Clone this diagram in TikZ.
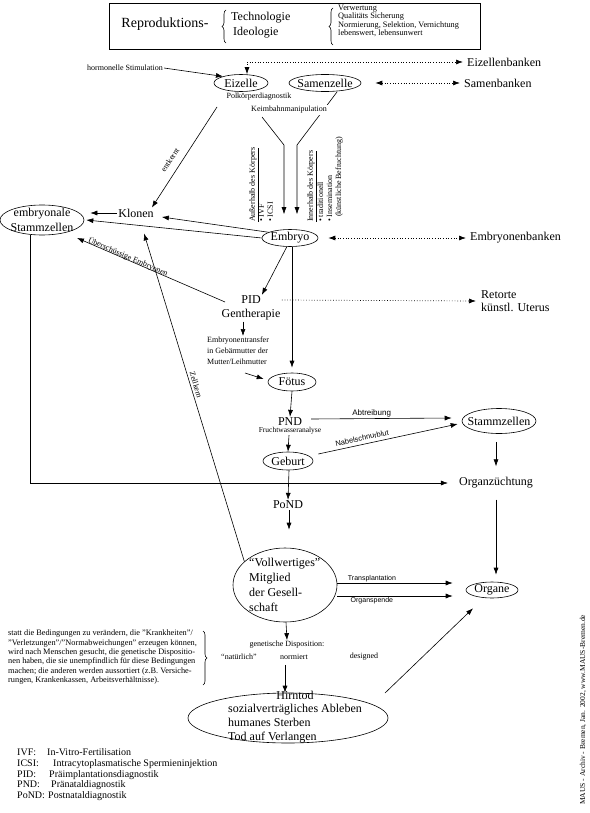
\documentclass[tikz,border=0pt]{standalone}
\usepackage{fontspec}
\setmainfont{Liberation Serif}
\newfontfamily\sansf{Liberation Sans}
\usetikzlibrary{shapes.geometric,arrows.meta,decorations.pathreplacing}
\begin{document}
\begin{tikzpicture}[x=1pt,y=-1pt,
  every node/.style={inner sep=1pt},
  ln/.style={line width=0.6pt},
  conn/.style={ln,-{Latex[length=7pt,width=5pt]}},
  dconn/.style={line width=0.7pt,dotted,-{Latex[length=7pt,width=5pt]}},
  ddconn/.style={line width=0.7pt,dotted,{Latex[length=7pt,width=5pt]}-{Latex[length=7pt,width=5pt]}},
  ell/.style={draw,ellipse,ln,inner sep=0pt},
  big/.style={font=\fontsize{12}{14}\selectfont},
  sm/.style={font=\fontsize{8}{9}\selectfont},
  lbl/.style={font=\sansf\fontsize{7}{8}\selectfont},
  brc/.style={ln,decorate,decoration={brace,amplitude=4pt}},
  leg/.style={anchor=west,font=\fontsize{10}{11}\selectfont,text height=7pt,text depth=2pt},
]
\fill[white] (0,0) rectangle (589,813);
\useasboundingbox (0,0) rectangle (589,813);

% ---------- top box
\node[draw,ln,minimum width=371pt,minimum height=46pt] (topbox) at (294.5,26) {};
\node[font=\fontsize{14}{16}\selectfont] (repro) at (165,24) {Reproduktions-};
\draw[brc] (226,43) -- (226,10);
\node[big,anchor=west] (tech) at (230,18) {Technologie};
\node[big,anchor=west] (ideo) at (232,33) {Ideologie};
\draw[brc] (333,45) -- (333,8);
\node[anchor=west,align=left,font=\fontsize{8.3}{7.5}\selectfont] (verw) at (337,21) {Verwertung\\Qualitäts Sicherung\\Normierung, Selektion, Vernichtung\\lebenswert, lebensunwert};

% ---------- ellipses
\node[ell,minimum width=54pt,minimum height=17pt] (eiz) at (241,83) {};
\node[big] at (eiz) {Eizelle};
\node[ell,minimum width=72pt,minimum height=17pt] (sam) at (325,83) {};
\node[big] at (sam) {Samenzelle};
\node[ell,minimum width=56pt,minimum height=17pt] (embryo) at (290,238) {};
\node[big] at (embryo) {Embryo};
\node[ell,minimum width=84pt,minimum height=30pt] (esz) at (42,220) {};
\node[big,align=center,font=\fontsize{12}{15}\selectfont] at (esz) {embryonale\\Stammzellen};
\node[ell,minimum width=48pt,minimum height=18pt] (fotus) at (292,382) {};
\node[big] at (fotus) {Fötus};
\node[ell,minimum width=50pt,minimum height=18pt] (geburt) at (288,461) {};
\node[big] at (geburt) {Geburt};
\node[ell,minimum width=74pt,minimum height=25pt] (stz) at (499,421) {};
\node[big] at (stz) {Stammzellen};
\node[ell,minimum width=52pt,minimum height=16pt] (organe) at (492,590) {};
\node[big] at (organe) {Organe};
\node[ell,minimum width=104pt,minimum height=74pt] (voll) at (285,585) {};
\node[big,align=left,anchor=west,font=\fontsize{12}{15}\selectfont] (volltext) at (248,585) {“Vollwertiges”\\Mitglied\\der Gesell-\\schaft};
\node[ell,minimum width=200pt,minimum height=50pt] (hirn) at (288,718) {};
\node[big] (hirnt) at (295,695) {Hirntod};
\node[big,align=left,anchor=west] (hirnl) at (227,724) {sozialverträgliches Ableben\\humanes Sterben\\Tod auf Verlangen};

% ---------- plain text nodes
\node[big,anchor=west] (eizb) at (466,62) {Eizellenbanken};
\node[big,anchor=west] (samb) at (463,83) {Samenbanken};
\node[big,anchor=west] (embb) at (469,238) {Embryonenbanken};
\node[big] (klonen) at (136,213) {Klonen};
\node[big] (pid) at (251,300) {PID};
\node[big] (gen) at (251,315) {Gentherapie};
\node[big,anchor=west,align=left,font=\fontsize{12}{12.5}\selectfont] (ret) at (480,301) {Retorte\\künstl. Uterus};
\node[sm,align=left,anchor=north west,font=\fontsize{8}{11}\selectfont] (etrans) at (206,336) {Embryonentransfer\\in Gebärmutter der\\Mutter/Leihmutter};
\node[big] (pnd) at (290,422) {PND};
\node[sm,font=\fontsize{7.5}{8}\selectfont] (frucht) at (290,430.5) {Fruchtwasseranalyse};
\node[big] (organz) at (496,483) {Organzüchtung};
\node[big] (pond) at (288,505) {PoND};
\node[sm] (horm) at (125,68) {hormonelle Stimulation};

% ---------- connectors
\draw[ddconn] ([xshift=6pt]eiz.north) |- ([xshift=-3pt]eizb.west);
\draw[ddconn] ([xshift=14pt]sam.east) -- ([xshift=-3pt]samb.west);
\draw[conn] (horm.east) -- (eiz.160);

\coordinate (e1) at (262,117);
\coordinate (s1) at (337,92);
\draw[conn] (e1) -- (284,145) -- ([xshift=-6pt,yshift=15pt]embryo.north);
\draw[conn] (s1) -- (297,145) -- ([xshift=7pt,yshift=15pt]embryo.north);
\node[sm,fill=white] (polk) at (259,97) {Polkörperdiagnostik};
\node[sm,fill=white] (keim) at (289,110) {Keimbahnmanipulation};

\node[sm,rotate=90,anchor=north west,align=left] (aus) at (248,223) {\underline{Außerhalb des Körpers}\\• IVF\\• ICSI};
\node[sm,rotate=90,anchor=north west,align=left] (inn) at (306,223) {\underline{Innerhalb des Körpers}\\• traditionell\\• Insemination\\\hphantom{• }(künstliche Befruchtung)};

\coordinate (k1) at (217,107);
\draw[conn] (k1) -- ([xshift=-3pt]klonen.north east);
\node[sm,rotate=55.6] (entk) at (170,160) {entkernt};
\draw[conn] (klonen.west) -- ([xshift=6pt,yshift=7pt]esz.east);
\draw[conn] (embryo.165) -- ([xshift=7pt,yshift=-4pt]klonen.east);
\draw[conn] (embryo.west) -- ([xshift=2pt]esz.east);
\draw[ddconn] ([xshift=10pt]embryo.east) -- ([xshift=-3pt]embb.west);
\draw[conn] (embryo.250) -- (pid.north east);
\draw[conn] ([xshift=2pt]embryo.south) -- ([yshift=5pt]fotus.north);

\coordinate (p1) at (225,302);
\coordinate (ez1) at (77,238);
\draw[conn] (p1) -- (ez1);
\node[sm,rotate=-23.4] (uebe) at (128,257) {Überschüssige Embryonen};
\draw[dconn] ([xshift=20pt]pid.east) -- ([xshift=-4pt]ret.west);
\draw[conn] ([xshift=-8pt]gen.south) -- ([xshift=-8pt]gen.south |- etrans.north);
\coordinate (t1) at (245,373);
\draw[conn] (t1) -- ([xshift=-4pt,yshift=3pt]fotus.west);
\draw[conn] (fotus.south) -- (pnd.north);
\draw[conn] ([xshift=8pt,yshift=3pt]pnd.east) -- node[lbl,above,pos=0.43,font=\sansf\fontsize{8}{9}\selectfont]{Abtreibung} ([xshift=-10pt,yshift=3pt]stz.west);
\draw[conn] ([xshift=-1pt]frucht.south) -- (geburt.north);
\draw[conn] ([xshift=5pt,yshift=7pt]geburt.east) -- ([xshift=-4pt,yshift=-3pt]stz.west);
\node[lbl,rotate=12,font=\sansf\fontsize{7.5}{8}\selectfont] (nabel) at (362,438) {Nabelschnurblut};
\draw[conn] ([xshift=-3pt,yshift=-8pt]stz.south) -- ([yshift=10pt]organz.north);
\draw[conn] ([xshift=-12pt]esz.south) |- ([xshift=-10pt]organz.west);
\draw[conn] ([xshift=1pt]geburt.south) -- (pond.north);
\draw[conn] ([xshift=1pt]pond.south) -- ([xshift=4pt,yshift=18pt]voll.north);
\draw[conn] ([yshift=-10pt]organz.south) -- ([xshift=4pt,yshift=7pt]organe.north);
\draw[conn] ([yshift=2pt]voll.east) -- node[lbl,above,pos=0.3]{Transplantation} ([xshift=-13pt,yshift=7pt]organe.west);
\draw[conn] ([yshift=-11pt]voll.east) -- node[lbl,below,pos=0.3]{Organspende} ([xshift=-13pt,yshift=-6pt]organe.west);
\draw[conn] (voll.150) -- ([xshift=8pt,yshift=-15pt]klonen.south);
\node[sm,rotate=-74] (zell) at (196,385) {Zellkern};

\node[sm] (gendisp) at (287,645) {genetische Disposition:};
\node[sm] (nat) at (239,657) {“natürlich”};
\node[sm] (norm) at (294,657) {normiert};
\node[sm] (des) at (364,657) {designed};
\draw[conn] ([xshift=1pt]voll.south) -- (gendisp.north);
\draw[conn] ([xshift=-2pt,yshift=-15pt]gendisp.south) -- ([xshift=-3pt]hirn.north);
\coordinate (h1) at (385,693);
\draw[conn] (h1) -- ([xshift=-19pt,yshift=-10pt]organe.south);

% ---------- left text block
\node[align=left,anchor=north west,font=\fontsize{8.3}{9.3}\selectfont] (stattxt) at (7,629) {statt die Bedingungen zu verändern, die "Krankheiten"/\\"Verletzungen"/"Normabweichungen" erzeugen können,\\wird nach Menschen gesucht, die genetische Dispositio-\\nen haben, die sie unempfindlich für diese Bedingungen\\machen; die anderen werden aussortiert (z.B. Versiche-\\rungen, Krankenkassen, Arbeitsverhältnisse).};
\draw[brc] (203,631) -- (203,685);

% ---------- legend
\node[leg] (l1) at (16,753) {IVF:};
\node[leg] (d1) at (46,753) {In-Vitro-Fertilisation};
\node[leg] (l2) at (16,764) {ICSI:};
\node[leg] (d2) at (52,764) {Intracytoplasmatische Spermieninjektion};
\node[leg] (l3) at (16,774.5) {PID:};
\node[leg] (d3) at (48,774.5) {Präimplantationsdiagnostik};
\node[leg] (l4) at (16,785) {PND:};
\node[leg] (d4) at (50,785) {Pränataldiagnostik};
\node[leg] (l5) at (16,795.5) {PoND:};
\node[leg] (d5) at (47,795.5) {Postnataldiagnostik};

\node[rotate=90,anchor=west,font=\fontsize{7.5}{8}\selectfont] (copy) at (583,806) {MAUS - Archiv - Bremen, Jan. 2002, www.MAUS-Bremen.de};
\end{tikzpicture}
\end{document}
